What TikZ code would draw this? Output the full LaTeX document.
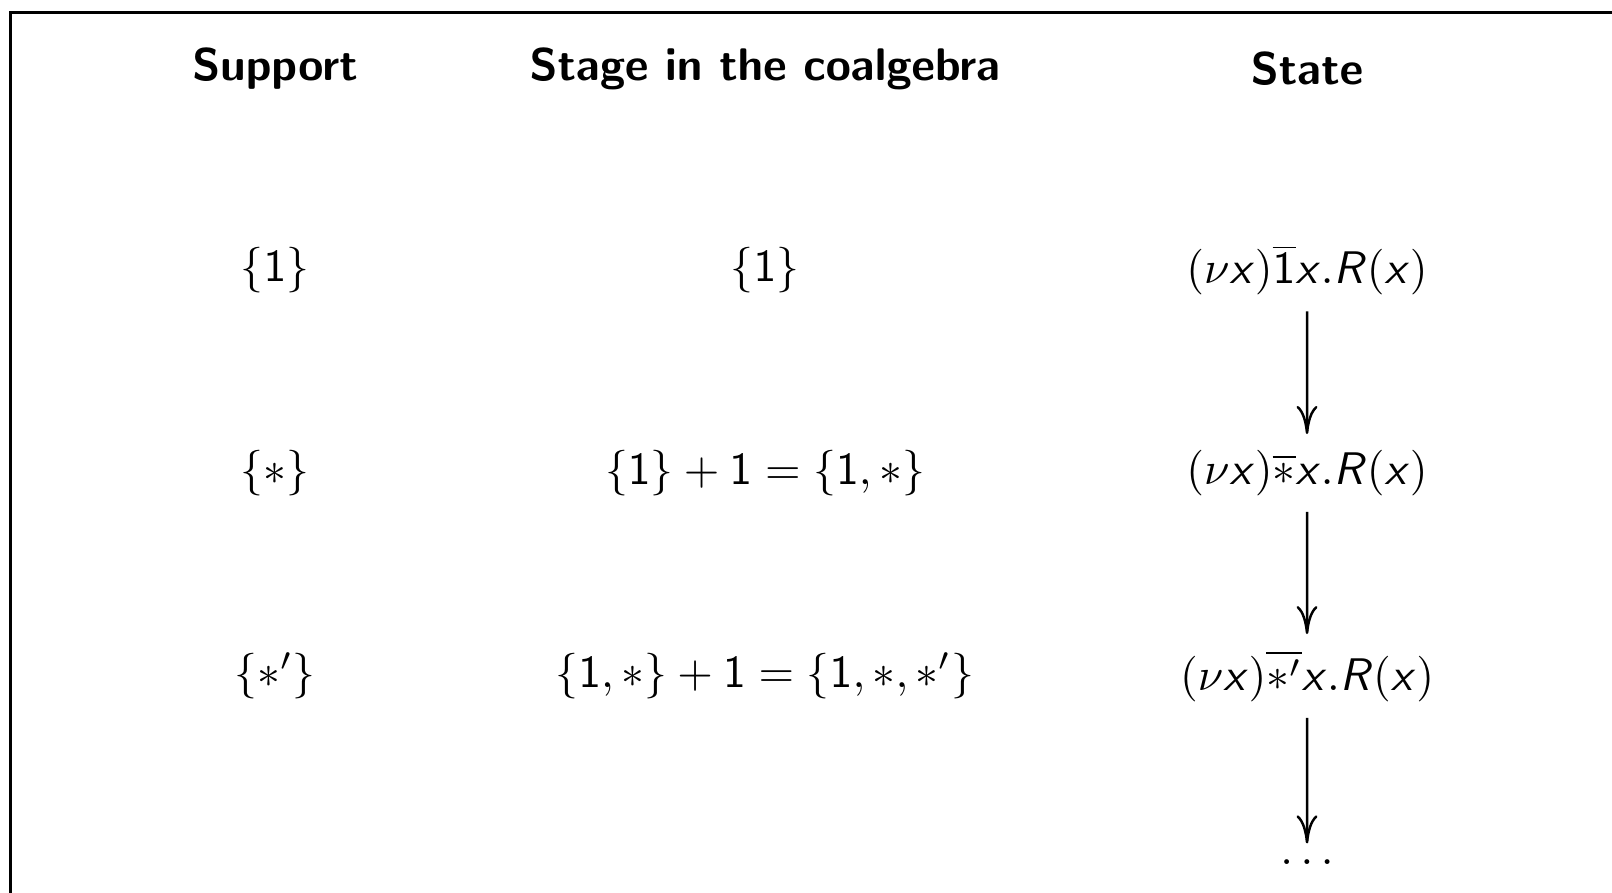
\documentclass[tikz,border=0pt]{standalone}
\usepackage{amsmath,amssymb}
\usetikzlibrary{arrows.meta}
% sans letters and digits in math, serif greek
\DeclareSymbolFont{sfletters}{OT1}{cmss}{m}{sl}
\DeclareSymbolFont{sfdigits}{OT1}{cmss}{m}{n}
\DeclareMathSymbol{x}{\mathalpha}{sfletters}{`x}
\DeclareMathSymbol{R}{\mathalpha}{sfletters}{`R}
\DeclareMathSymbol{1}{\mathalpha}{sfdigits}{`1}
\newcommand{\headfont}{\fontencoding{OT1}\fontfamily{cmss}\fontseries{bx}\selectfont}

\begin{document}
\begin{tikzpicture}[every node/.style={font=\fontsize{10}{12}\selectfont,scale=1.3},
  head/.style={font=\fontsize{10}{12}\selectfont\headfont},
  stepto/.style={-{To[length=8pt,width=6pt]},line width=0.7pt}]
\useasboundingbox (0,0) rectangle (16.12,-8.93);
\draw[line width=0.7pt] (0.107,-9.5) -- (0.107,-0.127) -- (16.8,-0.127);
% column heads
\node[head] (hsup) at (2.75,-0.69) {Support};
\node[head] (hstage) at (7.65,-0.69) {Stage in the coalgebra};
\node[head] (hstate) at (13.07,-0.69) {State};
% rows
\node (p1) at (2.75,-2.70) {$\{1\}$};
\node (g1) at (7.65,-2.70) {$\{1\}$};
\node (s1) at (13.07,-2.70) {$(\nu x)\overline{1}x.R(x)$};
\node (p2) at (2.75,-4.73) {$\{*\}$};
\node (g2) at (7.65,-4.73) {$\{1\}+1=\{1,*\}$};
\node (s2) at (13.07,-4.73) {$(\nu x)\overline{*}x.R(x)$};
\node (p3) at (2.75,-6.76) {$\{*'\}$};
\node (g3) at (7.65,-6.76) {$\{1,*\}+1=\{1,*,*'\}$};
\node (s3) at (13.07,-6.76) {$(\nu x)\overline{*'}x.R(x)$};
\node (s4) at (13.07,-8.62) {$\ldots$};
\draw[stepto] (s1) -- (s2);
\draw[stepto] (s2) -- (s3);
\draw[stepto] (s3) -- (s4);
\end{tikzpicture}
\end{document}
